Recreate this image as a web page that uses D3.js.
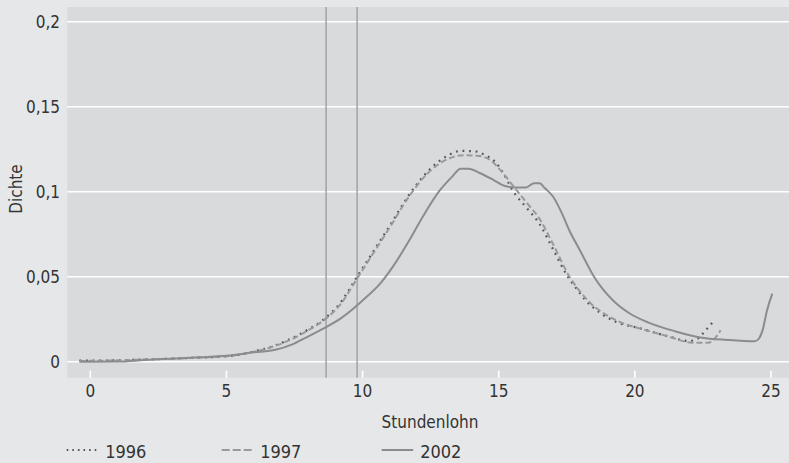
<!DOCTYPE html>
<html>
<head>
<meta charset="utf-8">
<script src="https://cdn.jsdelivr.net/npm/d3@7"></script>
<style>
  body { margin: 0; background: #e6e7e9; }
  text { font-family: "Liberation Sans Narrow", "DejaVu Sans Condensed", sans-serif; fill: #333; }
</style>
</head>
<body>
<div id="chart"></div>
<script>
// series data: [Stundenlohn, Dichte]
var s1996 = [[-0.4,0.0006],[0,0.0006],[1,0.0008],[2,0.0013],[3,0.0018],[4,0.0024],[5,0.0032],[5.5,0.0042],[6,0.006],[6.7,0.009],[7.3,0.013],[7.9,0.018],[8.5,0.024],[9.2,0.035],[9.8,0.05],[10.4,0.065],[11,0.08],[11.7,0.098],[12.4,0.112],[13.1,0.121],[13.6,0.124],[14.1,0.1238],[14.5,0.1215],[14.9,0.117],[15.2,0.11],[15.5,0.101],[16,0.091],[16.5,0.081],[17,0.066],[17.5,0.051],[17.9,0.042],[18.2,0.036],[18.7,0.029],[19.3,0.0235],[20.2,0.0196],[21.2,0.015],[22,0.0122],[22.3,0.0135],[22.6,0.0185],[22.9,0.024]];
var s1997 = [[-0.4,0.0004],[0,0.0005],[1,0.0008],[2,0.0013],[3,0.0018],[4,0.0024],[5,0.0032],[5.5,0.0042],[6,0.0058],[6.7,0.0088],[7.3,0.0125],[7.9,0.0175],[8.5,0.0235],[9.2,0.034],[9.8,0.049],[10.4,0.064],[11,0.079],[11.7,0.097],[12.4,0.111],[13.1,0.119],[13.7,0.1215],[14.2,0.1212],[14.7,0.1185],[15.1,0.112],[15.5,0.104],[16,0.094],[16.5,0.084],[17,0.069],[17.6,0.05],[18,0.041],[18.4,0.034],[18.9,0.028],[19.5,0.023],[20.3,0.019],[21.2,0.015],[22.1,0.0112],[22.7,0.0112],[22.95,0.014],[23.15,0.0185]];
var s2002 = [[-0.4,0],[0,0],[1,0.0001],[2,0.001],[3,0.0018],[4,0.0026],[5,0.0035],[6,0.0055],[6.8,0.007],[7.4,0.01],[7.9,0.014],[8.5,0.019],[9.2,0.0255],[10,0.036],[10.7,0.047],[11.2,0.058],[11.7,0.071],[12.2,0.085],[12.8,0.1],[13.3,0.109],[13.6,0.1135],[13.9,0.1135],[14.3,0.111],[14.8,0.107],[15.2,0.1035],[15.6,0.1025],[16,0.1025],[16.3,0.105],[16.5,0.105],[16.7,0.102],[17,0.097],[17.3,0.088],[17.6,0.077],[18,0.065],[18.5,0.05],[19.2,0.036],[19.8,0.0285],[20.5,0.023],[21.5,0.0178],[22.4,0.0143],[23.4,0.0128],[24.4,0.012],[24.55,0.0135],[24.7,0.019],[24.85,0.03],[25.05,0.04]];
var xTicks = [0, 5, 10, 15, 20, 25];
var yTicks = [0, 0.05, 0.1, 0.15, 0.2];
var yLabels = ["0", "0,05", "0,1", "0,15", "0,2"];
var vLines = [8.66, 9.8];
var legendNames = ["1996", "1997", "2002"];

var w = 789, h = 463;
var plotL = 67.3, plotR = 789, plotT = 7, plotB = 377.7;

var x = d3.scaleLinear().domain([0, 25]).range([90.3, 771]);
var y = d3.scaleLinear().domain([0, 0.2]).range([361.7, 21.7]);

var svg = d3.select("#chart").append("svg")
    .attr("width", w)
    .attr("height", h);

svg.append("rect").attr("width", w).attr("height", h).attr("fill", "#e6e7e9");

// plot background
svg.append("rect")
    .attr("x", plotL).attr("y", plotT)
    .attr("width", plotR - plotL).attr("height", plotB - plotT)
    .attr("fill", "#d9dadc");

// horizontal grid
svg.selectAll(".grid").data(yTicks).enter().append("line")
    .attr("x1", plotL).attr("x2", plotR)
    .attr("y1", d => y(d)).attr("y2", d => y(d))
    .attr("stroke", "#fff").attr("stroke-width", 1.6);

// x ticks (white, inside plot bottom)
svg.selectAll(".xt").data(xTicks).enter().append("line")
    .attr("x1", d => x(d)).attr("x2", d => x(d))
    .attr("y1", plotB - 7).attr("y2", plotB)
    .attr("stroke", "#fff").attr("stroke-width", 1.6);

svg.selectAll(".xl").data(xTicks).enter().append("text")
    .attr("x", d => x(d)).attr("y", 391)
    .attr("text-anchor", "middle").attr("dominant-baseline", "central")
    .style("font-size", "17px")
    .text(d => d);

svg.selectAll(".yl").data(yTicks).enter().append("text")
    .attr("x", 60).attr("y", d => y(d))
    .attr("text-anchor", "end").attr("dominant-baseline", "central")
    .style("font-size", "17px")
    .text((d, i) => yLabels[i]);

// vertical reference lines
svg.selectAll(".vl").data(vLines).enter().append("line")
    .attr("x1", d => x(d)).attr("x2", d => x(d))
    .attr("y1", plotT).attr("y2", plotB)
    .attr("stroke", "#a3a3a3").attr("stroke-width", 1.5);

var line = d3.line().x(d => x(d[0])).y(d => y(d[1])).curve(d3.curveMonotoneX);

var styles = [
    { data: s1996, color: "#555555", dash: "1.8,4.8", width: 2.2 },
    { data: s1997, color: "#9a9a9a", dash: "6,3", width: 2 },
    { data: s2002, color: "#8c8c8c", dash: null, width: 2 }
];

styles.forEach(function (s) {
    svg.append("path")
        .attr("d", line(s.data))
        .attr("fill", "none")
        .attr("stroke", s.color)
        .attr("stroke-width", s.width)
        .attr("stroke-dasharray", s.dash);
});

// axis titles
svg.append("text")
    .attr("x", 430).attr("y", 421.5)
    .attr("text-anchor", "middle").attr("dominant-baseline", "central")
    .style("font-size", "17px")
    .text("Stundenlohn");

svg.append("text")
    .attr("transform", "translate(15.5,189) rotate(-90)")
    .attr("text-anchor", "middle").attr("dominant-baseline", "central")
    .style("font-size", "17px")
    .text("Dichte");

// legend
var legX = [66.7, 221.7, 381.7];
legendNames.forEach(function (name, i) {
    var s = styles[i];
    svg.append("line")
        .attr("x1", legX[i]).attr("x2", legX[i] + 31.5)
        .attr("y1", 450).attr("y2", 450)
        .attr("stroke", s.color).attr("stroke-width", 2)
        .attr("stroke-dasharray", i === 0 ? "1.6,4" : (i === 1 ? "8,3" : null));
    svg.append("text")
        .attr("x", legX[i] + 38.5).attr("y", 451)
        .attr("dominant-baseline", "central")
        .style("font-size", "18px")
        .text(name);
});
</script>
</body>
</html>
